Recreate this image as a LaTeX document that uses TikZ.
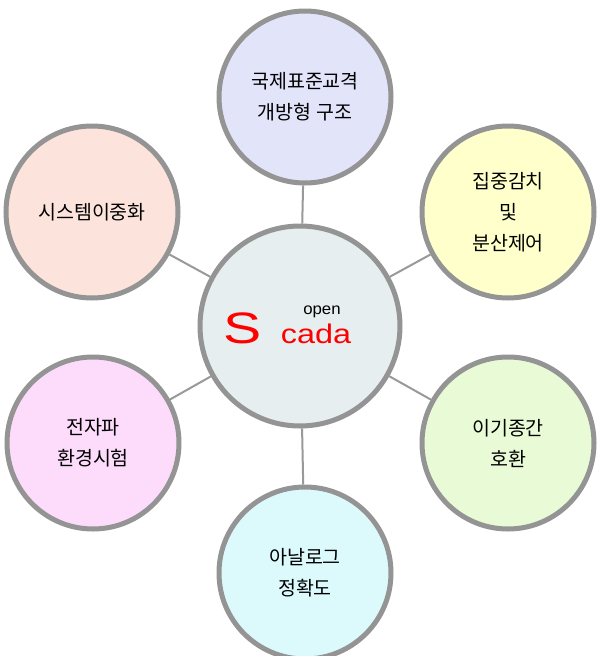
\documentclass[tikz,border=0pt]{standalone}
\usepackage{fontspec}
\setmainfont{Liberation Sans}
\newfontfamily\kr{Noto Sans CJK KR}
\definecolor{cc}{HTML}{E6EEF0}
\definecolor{ct}{HTML}{E2E4FA}
\definecolor{ctr}{HTML}{FFFFCC}
\definecolor{cbr}{HTML}{E9FAD6}
\definecolor{cb}{HTML}{DCFAFC}
\definecolor{cbl}{HTML}{FCDCFA}
\definecolor{ctl}{HTML}{FCE4DC}
\begin{document}
\begin{tikzpicture}[x=1pt,y=-1pt,
  bub/.style={circle,draw=black!42,line width=5pt,minimum size=172pt,inner sep=0pt,align=center,font=\kr\fontsize{19.5}{31}\selectfont},
  link/.style={draw=black!40,line width=2pt}]
\useasboundingbox (0,0) rectangle (600,656);
\node[bub,minimum size=200pt,fill=cc] (c) at (300,326) {};
\node[bub,fill=ct] (t) at (305,97) {국제표준교격\\개방형 구조};
\node[bub,fill=ctr] (tr) at (508,212) {집중감치\\및\\분산제어};
\node[bub,fill=cbr] (br) at (508,443) {이기종간\\호환};
\node[bub,fill=cb] (b) at (305,573) {아날로그\\정확도};
\node[bub,fill=cbl] (bl) at (93,443) {전자파\\환경시험};
\node[bub,fill=ctl] (tl) at (92,212) {시스템이중화};
\foreach \n in {t,tr,br,b,bl,tl} \draw[link] (c) -- (\n);
\node[font=\fontsize{16}{16}\selectfont,anchor=base,xscale=1.05] (op) at (322,314) {open};
\node[text=red,font=\fontsize{44}{44}\selectfont,anchor=base,xscale=1.3] (s) at (243,343) {S};
\node[text=red,font=\fontsize{27}{27}\selectfont,anchor=base,xscale=1.2] (cd) at (316,343) {cada};
\end{tikzpicture}
\end{document}
